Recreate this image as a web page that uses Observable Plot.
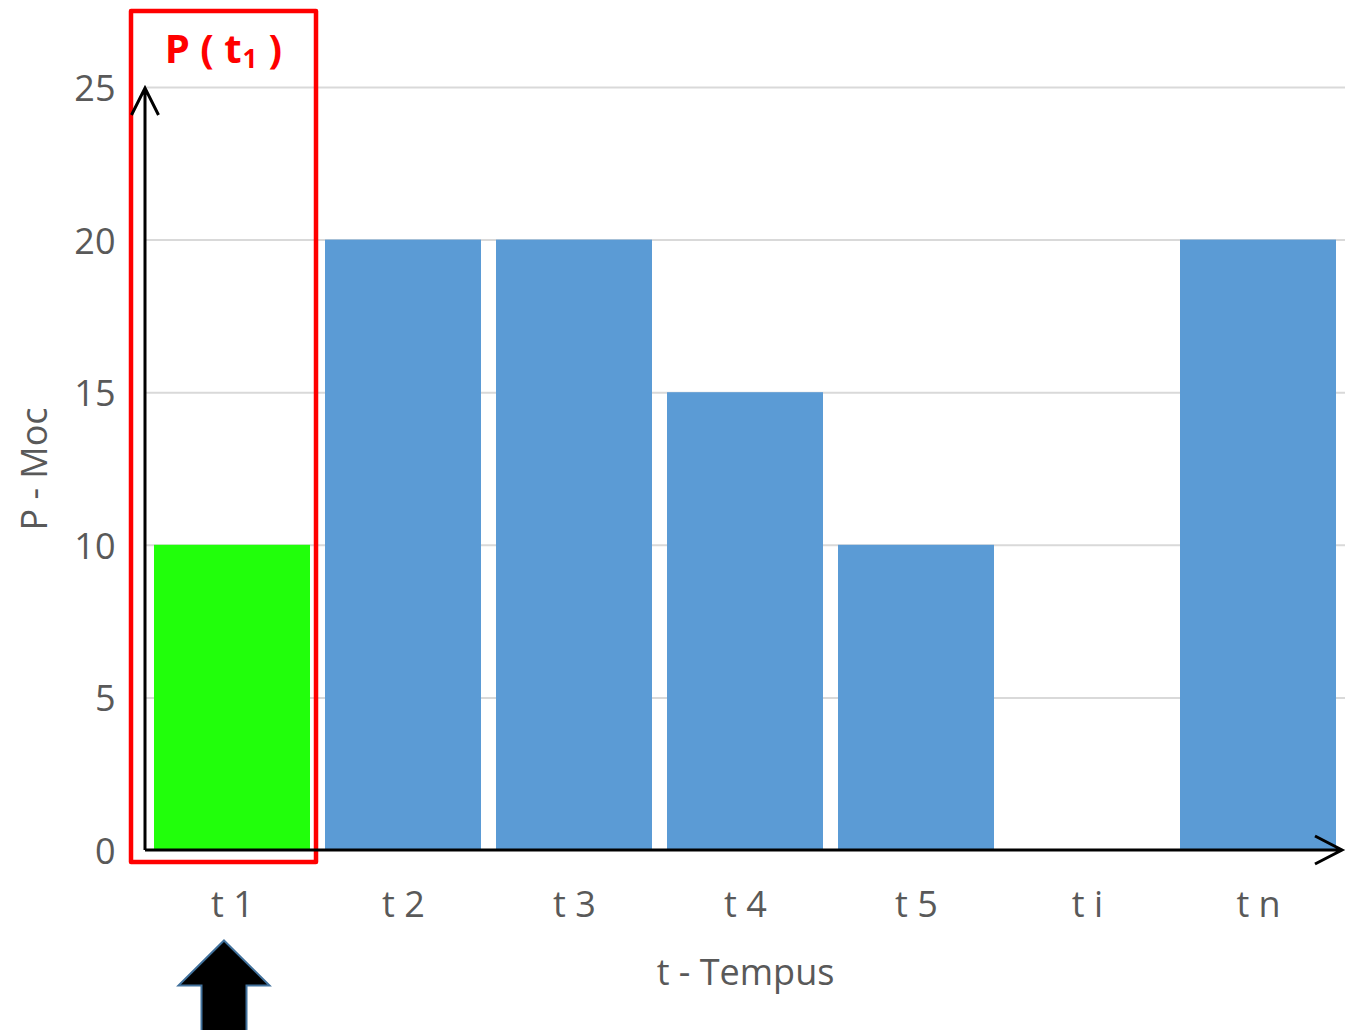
<!DOCTYPE html>
<html>
<head>
<meta charset="utf-8">
<script src="https://cdn.jsdelivr.net/npm/d3@7"></script>
<script src="https://cdn.jsdelivr.net/npm/@observablehq/plot@0.6"></script>
<style>
  html, body { margin: 0; padding: 0; background: #fff; }
  #chart svg { display: block; }
</style>
</head>
<body>
<div id="chart"></div>
<script>
// ---- data ----
const categories = ["t 1", "t 2", "t 3", "t 4", "t 5", "t i", "t n"];
const values = [10, 20, 20, 15, 10, null, 20];
const highlight = "t 1";
const yTicks = [0, 5, 10, 15, 20, 25];
const yTitle = "P - Moc";
const xTitle = "t - Tempus";
const noteBase = "P ( t";
const noteSub = "1";
const noteEnd = ")";

const data = categories.map((t, i) => ({t, p: values[i]}));

const FONT = "'Open Sans', Lato, sans-serif";
const GREEN = "#21ff0b", BLUE = "#5b9bd5", RED = "#ff0000", GRAY = "#595959";

// axis lines with open arrowheads at the frame edges
function axisArrows(index, scales, values, dims) {
  const {width, height, marginLeft, marginRight, marginBottom} = dims;
  const x0 = marginLeft, y0 = height - marginBottom;
  const yTip = scales.y(yTicks[yTicks.length - 1]) + 1;
  const xTip = width - marginRight - 3;
  const g = d3.create("svg:g");
  g.append("path")
    .attr("fill", "none").attr("stroke", "#000").attr("stroke-width", 3)
    .attr("d", `M${x0},${y0}V${yTip}M${x0 - 13.5},${yTip + 27}L${x0},${yTip}L${x0 + 13.5},${yTip + 27}` +
               `M${x0},${y0}H${xTip}M${xTip - 27},${y0 - 14}L${xTip},${y0}L${xTip - 27},${y0 + 14}`);
  return g.node();
}

// block arrow symbol (drawn relative to its tip)
const upArrow = {
  draw(ctx) {
    ctx.moveTo(0, 0);
    ctx.lineTo(45.5, 45);
    ctx.lineTo(22.5, 45);
    ctx.lineTo(22.5, 110);
    ctx.lineTo(-22.5, 110);
    ctx.lineTo(-22.5, 45);
    ctx.lineTo(-45.5, 45);
    ctx.closePath();
  }
};

const chart = Plot.plot({
  width: 1356,
  height: 1030,
  marginLeft: 145,
  marginRight: 11,
  marginTop: 87,
  marginBottom: 180,
  style: {fontFamily: FONT, color: GRAY, background: "#fff", overflow: "visible"},
  x: {domain: categories, paddingInner: 0.09, paddingOuter: 0.045, label: null, axis: null},
  y: {domain: [0, 25], label: null, axis: null},
  color: {type: "identity"},
  marks: [
    Plot.ruleY(yTicks.filter(d => d > 0), {stroke: "#d9d9d9", strokeWidth: 2}),
    Plot.barY(data.filter(d => d.p != null), {
      x: "t", y: "p",
      fill: d => d.t === highlight ? GREEN : BLUE
    }),
    Plot.barY([highlight], {
      x: d => d, y1: 0, y2: 25,
      fill: "none", stroke: RED, strokeWidth: 4.5, strokeLinejoin: "round",
      insetLeft: -23, insetRight: -6, insetTop: -76, insetBottom: -12
    }),
    axisArrows,
    Plot.axisY(yTicks, {tickSize: 0, tickPadding: 30, fontSize: 36, dy: 2, label: null}),
    Plot.axisX({tickSize: 0, tickPadding: 41, fontSize: 36, label: null}),
    Plot.text([xTitle], {frameAnchor: "bottom", dy: 134, fontSize: 36, fill: GRAY}),
    Plot.text([yTitle], {frameAnchor: "left", textAnchor: "middle", dx: -110, rotate: -90, fontSize: 36, fill: GRAY}),
    // red annotation P ( t1 )
    Plot.text([noteBase], {x: () => highlight, y: () => 25, text: d => d, textAnchor: "end", dx: 9, dy: -37,
      fill: RED, fontWeight: "bold", fontSize: 40}),
    Plot.text([noteSub], {x: () => highlight, y: () => 25, text: d => d, textAnchor: "start", dx: 10, dy: -28,
      fill: RED, fontWeight: "bold", fontSize: 26}),
    Plot.text([noteEnd], {x: () => highlight, y: () => 25, text: d => d, textAnchor: "start", dx: 36, dy: -37,
      fill: RED, fontWeight: "bold", fontSize: 40}),
    // black block arrow under t 1
    Plot.dot([highlight], {x: d => d, y: () => 0, dx: -8.5, dy: 90, symbol: upArrow, r: 10,
      fill: "#000", stroke: "#41719c", strokeWidth: 2})
  ]
});

document.getElementById("chart").appendChild(chart);
</script>
</body>
</html>
